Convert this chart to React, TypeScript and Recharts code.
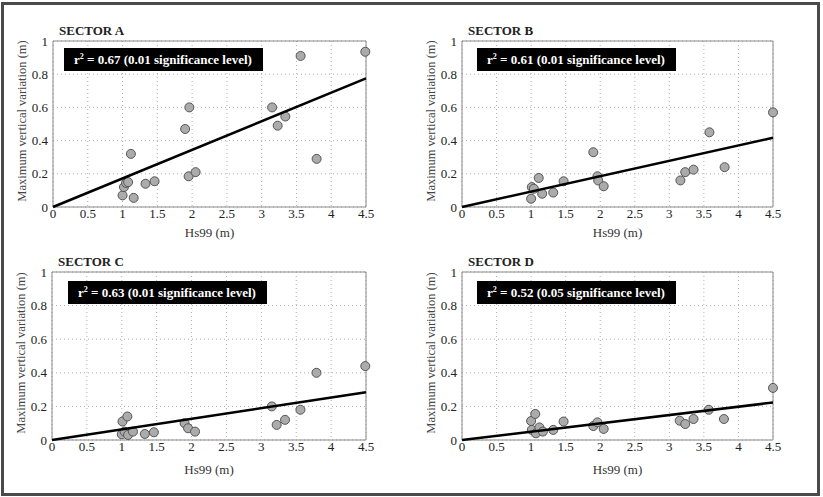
import { ScatterChart, Scatter, XAxis, YAxis, CartesianGrid, ReferenceArea } from 'recharts';

// Hs99 (m) and maximum vertical variation (m) per sector
const sectorAHs = [1.0, 1.02, 1.05, 1.08, 1.12, 1.16, 1.33, 1.46, 1.9, 1.96, 1.95, 2.05, 3.15, 3.23, 3.34, 3.56, 3.79, 4.49];
const sectorAVar = [0.07, 0.12, 0.145, 0.15, 0.32, 0.055, 0.14, 0.155, 0.47, 0.6, 0.185, 0.21, 0.6, 0.49, 0.545, 0.91, 0.29, 0.935];

const sectorBHs = [1.0, 1.01, 1.04, 1.11, 1.16, 1.32, 1.47, 1.9, 1.96, 1.97, 2.05, 3.16, 3.23, 3.35, 3.58, 3.8, 4.5];
const sectorBVar = [0.05, 0.12, 0.11, 0.175, 0.08, 0.087, 0.155, 0.33, 0.185, 0.16, 0.125, 0.16, 0.21, 0.225, 0.45, 0.24, 0.57];

const sectorCHs = [1.0, 1.01, 1.04, 1.08, 1.09, 1.16, 1.33, 1.46, 1.9, 1.95, 2.05, 3.15, 3.22, 3.34, 3.56, 3.79, 4.49];
const sectorCVar = [0.034, 0.11, 0.05, 0.14, 0.03, 0.05, 0.036, 0.046, 0.1, 0.07, 0.05, 0.2, 0.09, 0.12, 0.18, 0.4, 0.44];

const sectorDHs = [1.0, 1.01, 1.06, 1.07, 1.12, 1.17, 1.32, 1.47, 1.9, 1.96, 2.05, 3.15, 3.23, 3.35, 3.57, 3.79, 4.5];
const sectorDVar = [0.113, 0.06, 0.155, 0.04, 0.075, 0.05, 0.06, 0.11, 0.083, 0.105, 0.066, 0.115, 0.095, 0.125, 0.18, 0.125, 0.31];

// regression line value at Hs99 = 4.5 (line passes through origin)
const fitEnd = [0.775, 0.417, 0.284, 0.223];
const r2 = ['0.67', '0.61', '0.63', '0.52'];
const significance = ['0.01', '0.01', '0.01', '0.05'];
const sectorNames = ['SECTOR A', 'SECTOR B', 'SECTOR C', 'SECTOR D'];

const xTicks = [0, 0.5, 1, 1.5, 2, 2.5, 3, 3.5, 4, 4.5];
const yTicks = [0, 0.2, 0.4, 0.6, 0.8, 1];

const serif = 'Liberation Serif';

const toPoints = (xs: number[], ys: number[]) => xs.map((x, i) => ({ x, y: ys[i] }));

const panels = [
  { ox: 0, oy: 0, plotLeft: 53, plotTop: 41, plotRight: 366, plotBottom: 207, boxDx: 11, boxDy: 7, xLabelY: 237, points: toPoints(sectorAHs, sectorAVar) },
  { ox: 411, oy: 0, plotLeft: 462, plotTop: 41, plotRight: 773, plotBottom: 207, boxDx: 15, boxDy: 7, xLabelY: 237, points: toPoints(sectorBHs, sectorBVar) },
  { ox: 0, oy: 248, plotLeft: 52, plotTop: 272, plotRight: 366, plotBottom: 440, boxDx: 16, boxDy: 9, xLabelY: 474, points: toPoints(sectorCHs, sectorCVar) },
  { ox: 411, oy: 248, plotLeft: 462, plotTop: 272, plotRight: 773, plotBottom: 440, boxDx: 15, boxDy: 9, xLabelY: 474, points: toPoints(sectorDHs, sectorDVar) },
];

const W = 411;
const H = 248;
const Y_AXIS_W = 40;
const X_AXIS_H = 30;

const Dot = (props: any) => {
  const { cx, cy } = props;
  if (cx == null || cy == null) return <g />;
  return <circle cx={cx} cy={cy} r={4.5} fill="#ababab" stroke="#555" strokeWidth={1} />;
};

const XTick = (props: any) => {
  const { x, y, payload } = props;
  return (
    <text x={x} y={y} dy="0.71em" textAnchor="middle" fill="#222" fontSize={13} fontFamily={serif} style={{ fontFamily: serif }}>
      {payload.value}
    </text>
  );
};

const YTick = (props: any) => {
  const { x, y, payload } = props;
  return (
    <text x={x} y={y} dy="0.355em" textAnchor="end" fill="#222" fontSize={13} fontFamily={serif} style={{ fontFamily: serif }}>
      {payload.value}
    </text>
  );
};

function Panel({ idx }: { idx: number }) {
  const p = panels[idx];
  const margin = {
    top: p.plotTop - p.oy,
    left: p.plotLeft - p.ox - Y_AXIS_W,
    right: p.ox + W - p.plotRight,
    bottom: p.oy + H - p.plotBottom - X_AXIS_H,
  };
  const fit = [{ x: 0, y: 0 }, { x: 4.5, y: fitEnd[idx] }];
  const labelX = p.plotLeft - p.ox - 31;
  const labelY = (p.plotTop + p.plotBottom) / 2 - p.oy - 3;

  return (
    <div style={{ position: 'absolute', left: p.ox, top: p.oy, width: W, height: H, fontFamily: serif }}>
      <ScatterChart width={W} height={H} margin={margin}>
        <CartesianGrid stroke="#b0b0b0" strokeDasharray="1 3" />
        <XAxis
          type="number"
          dataKey="x"
          domain={[0, 4.5]}
          ticks={xTicks}
          height={X_AXIS_H}
          axisLine={false}
          tickLine={false}
          tickSize={0}
          tickMargin={2}
          tick={<XTick />}
        />
        <YAxis
          type="number"
          dataKey="y"
          domain={[0, 1]}
          ticks={yTicks}
          width={Y_AXIS_W}
          axisLine={false}
          tickLine={false}
          tickSize={0}
          tickMargin={5}
          tick={<YTick />}
        />
        <ReferenceArea x1={0} x2={4.5} y1={0} y2={1} fill="none" stroke="#8a8a8a" strokeWidth={1} />
        <Scatter data={p.points} shape={Dot} isAnimationActive={false} />
        <Scatter
          data={fit}
          line={{ stroke: '#000', strokeWidth: 2.5 }}
          shape={() => <g />}
          isAnimationActive={false}
        />
      </ScatterChart>
      <svg width={W} height={H} style={{ position: 'absolute', left: 0, top: 0, pointerEvents: 'none' }}>
        <text
          x={(p.plotLeft + p.plotRight) / 2 - p.ox}
          y={p.xLabelY - p.oy}
          textAnchor="middle"
          fill="#333"
          fontSize={13}
          fontFamily={serif}
        >
          Hs99 (m)
        </text>
        <text
          transform={`translate(${labelX}, ${labelY}) rotate(-90)`}
          dy="0.355em"
          textAnchor="middle"
          fill="#444"
          fontSize={12.5}
          fontFamily={serif}
        >
          Maximum vertical variation (m)
        </text>
      </svg>
      <div
        style={{
          position: 'absolute',
          left: p.plotLeft - p.ox + 6,
          top: p.plotTop - p.oy - 18,
          fontWeight: 'bold',
          fontSize: 13,
          color: '#222',
          whiteSpace: 'nowrap',
          lineHeight: '15px',
        }}
      >
        {sectorNames[idx]}
      </div>
      <div
        style={{
          position: 'absolute',
          left: p.plotLeft - p.ox + p.boxDx,
          top: p.plotTop - p.oy + p.boxDy,
          width: 199,
          height: 23,
          background: '#000',
          color: '#fff',
          fontWeight: 'bold',
          fontSize: 13,
          lineHeight: '23px',
          paddingLeft: 10,
          boxSizing: 'border-box',
          whiteSpace: 'nowrap',
        }}
      >
        r<sup style={{ fontSize: 8, verticalAlign: 'top', lineHeight: '17px' }}>2</sup> = {r2[idx]} ({significance[idx]} significance level)
      </div>
    </div>
  );
}

export default function App() {
  return (
    <div style={{ position: 'absolute', left: 0, top: 0, width: 823, height: 497, background: '#fff' }}>
      {panels.map((_, i) => (
        <Panel key={i} idx={i} />
      ))}
      <div
        style={{
          position: 'absolute',
          left: 1,
          top: 2,
          width: 819,
          height: 494,
          border: '3px solid #4a4a4a',
          boxSizing: 'border-box',
          pointerEvents: 'none',
        }}
      />
    </div>
  );
}
